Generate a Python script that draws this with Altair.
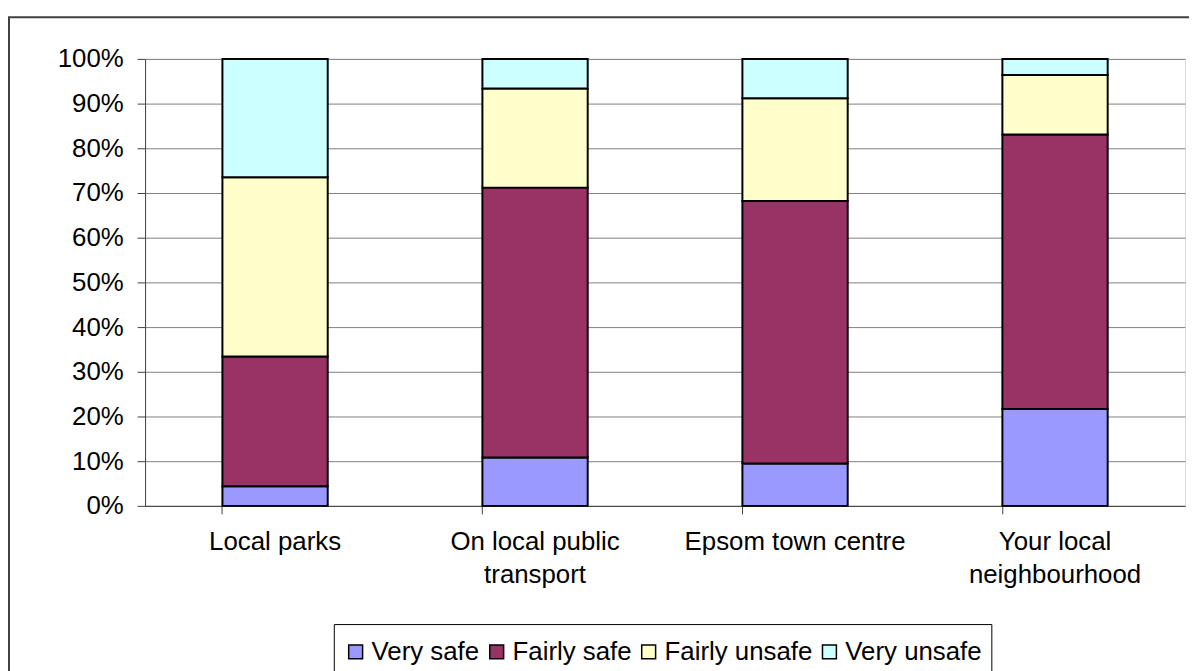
import altair as alt
import pandas as pd

categories = ["Local parks", "On local public transport", "Epsom town centre", "Your local neighbourhood"]
wrapped = {
    "On local public transport": ["On local public", "transport"],
    "Your local neighbourhood": ["Your local", "neighbourhood"],
}
series = ["Very safe", "Fairly safe", "Fairly unsafe", "Very unsafe"]
very_safe = [4.4, 10.8, 9.5, 21.7]
fairly_safe = [29.0, 60.4, 58.7, 61.4]
fairly_unsafe = [40.1, 22.2, 23.0, 13.3]
very_unsafe = [26.5, 6.6, 8.8, 3.6]
colors = ["#9999FF", "#993366", "#FFFFCC", "#CCFFFF"]

rows = []
for si, (s, vals) in enumerate(zip(series, [very_safe, fairly_safe, fairly_unsafe, very_unsafe])):
    for c, v in zip(categories, vals):
        rows.append({"category": c, "series": s, "value": v, "idx": si})
df = pd.DataFrame(rows)

label_expr = ""
for k, lines in wrapped.items():
    label_expr += "datum.value == '%s' ? [%s] : " % (k, ", ".join("'%s'" % l for l in lines))
label_expr += "datum.value"

FONT = "Liberation Sans"
FS = 26

bars = alt.Chart(df).mark_bar(stroke="black", strokeWidth=2).encode(
    x=alt.X("category:N", sort=categories, title=None,
            scale=alt.Scale(paddingInner=0.595, paddingOuter=0.2975),
            axis=alt.Axis(labelAngle=0, labelExpr=label_expr, labelFontSize=FS,
                          labelFont=FONT, labelColor="black", labelPadding=15,
                          labelLineHeight=33, labelBaseline="top", labelLimit=0,
                          bandPosition=0, tickSize=8, tickColor="#404040",
                          domainColor="#404040", grid=False)),
    y=alt.Y("value:Q", stack="normalize", title=None,
            scale=alt.Scale(domain=[0, 1]),
            axis=alt.Axis(format=".0%", values=[i / 10 for i in range(11)],
                          labelFontSize=FS, labelFont=FONT, labelColor="black",
                          labelPadding=14, tickSize=8, tickColor="#404040",
                          domainColor="#404040", gridColor="#808080", grid=True)),
    color=alt.Color("series:N", sort=series,
                    scale=alt.Scale(domain=series, range=colors),
                    legend=alt.Legend(title=" ", titleFontSize=2, titlePadding=4,
                                      orient="none", legendX=190, legendY=569,
                                      direction="horizontal", columns=4,
                                      symbolType="square", symbolSize=196,
                                      symbolStrokeColor="black", symbolStrokeWidth=1.5,
                                      symbolOpacity=1,
                                      labelFontSize=FS, labelFont=FONT, labelColor="black",
                                      labelOffset=3, columnPadding=4, padding=9,
                                      labelLimit=0,
                                      strokeColor="black", fillColor="white")),
    order=alt.Order("idx:Q", sort="ascending"),
)

frame_df = pd.DataFrame({"a": [0]})
frame = alt.Chart(frame_df).mark_rect(fill=None, stroke="#404040", strokeWidth=2).encode(
    x=alt.value(-137), x2=alt.value(1080), y=alt.value(-42), y2=alt.value(700)
)

chart = alt.layer(bars, frame).properties(
    width=1047, height=450,
    autosize=alt.AutoSizeParams(type="none"),
    padding={"left": 138, "top": 49, "right": 4, "bottom": 164},
).configure_view(stroke="#808080", strokeWidth=1).configure(background="white")

chart.save("out.html", embed_options={"renderer": "svg", "actions": False})
